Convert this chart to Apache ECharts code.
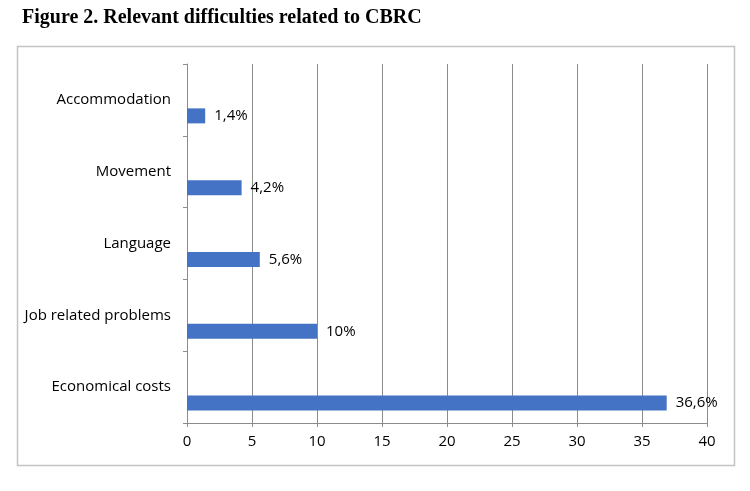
<!DOCTYPE html>
<html>
<head>
<meta charset="utf-8">
<script src="https://cdn.jsdelivr.net/npm/echarts@6/dist/echarts.min.js"></script>
<style>
html,body{margin:0;padding:0;background:#fff;}
#chart{width:750px;height:491px;}
</style>
</head>
<body>
<div id="chart"></div>
<script>
const titleText = 'Figure 2. Relevant difficulties related to CBRC';
const categories = ['Accommodation', 'Movement', 'Language', 'Job related problems', 'Economical costs'];
const values = [1.4, 4.2, 5.6, 10, 36.9];
const valueLabels = ['1,4%', '4,2%', '5,6%', '10%', '36,6%'];
const xTicks = [0, 5, 10, 15, 20, 25, 30, 35, 40];

const chart = echarts.init(document.getElementById('chart'));
const gray = '#8c8c8c';
const font = 'Open Sans';
chart.setOption({
  animation: false,
  title: {
    text: titleText,
    left: 17, top: 3,
    textStyle: {fontFamily: 'Liberation Serif', fontWeight: 'bold', fontSize: 20, color: '#000'}
  },
  graphic: [{
    type: 'rect', shape: {x: 17.5, y: 46.5, width: 717, height: 419},
    style: {fill: 'none', stroke: '#c4c4c4', lineWidth: 1.5}, silent: true, z: -1
  }],
  grid: {left: 187, right: 43, top: 64, bottom: 68, containLabel: false},
  xAxis: {
    type: 'value', min: xTicks[0], max: xTicks[xTicks.length - 1], interval: 5,
    axisLine: {show: true, lineStyle: {color: gray, width: 1}},
    axisTick: {show: true, length: 4, lineStyle: {color: gray}},
    splitLine: {show: true, lineStyle: {color: gray, width: 1}},
    axisLabel: {margin: 11, fontFamily: font, fontSize: 15, color: '#000'}
  },
  yAxis: {
    type: 'category', data: categories, inverse: true,
    axisLine: {show: true, lineStyle: {color: gray, width: 1}},
    axisTick: {show: true, length: 4, lineStyle: {color: gray}},
    axisLabel: {margin: 16, fontFamily: font, fontSize: 15, color: '#000'}
  },
  series: [{
    type: 'bar', data: categories.map(() => '-'), barWidth: 15, barGap: '113%', silent: true
  }, {
    type: 'bar', data: values, barWidth: 15, barGap: '113%',
    itemStyle: {color: '#4472C4'},
    label: {
      show: true, position: 'right', distance: 9,
      fontFamily: font, fontSize: 15, color: '#000',
      formatter: p => valueLabels[p.dataIndex]
    }
  }]
});
</script>
</body>
</html>
